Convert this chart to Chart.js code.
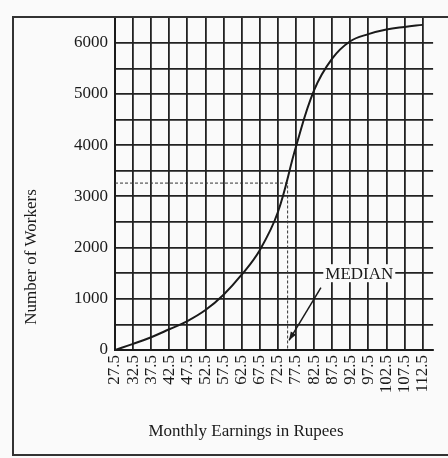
<!DOCTYPE html>
<html>
<head>
<meta charset="utf-8">
<script src="https://cdn.jsdelivr.net/npm/chart.js@4"></script>
<style>
	html, body { margin: 0; padding: 0; background: #fafafa; overflow: hidden; }
	#wrap { width: 448px; height: 458px; }
</style>
</head>
<body>
<div id="wrap"><canvas id="ogiveChart" width="448" height="458"></canvas></div>
<script>
// monthly earnings (upper class limits) and cumulative number of workers
const earnings = [27.5, 32.5, 37.5, 42.5, 47.5, 52.5, 57.5, 62.5, 67.5, 72.5, 77.5, 82.5, 87.5, 92.5, 97.5, 102.5, 107.5, 112.5];
const workers = [0, 120, 250, 405, 565, 780, 1080, 1470, 1950, 2690, 3970, 5070, 5690, 6030, 6170, 6260, 6310, 6350];
const yTicks = [0, 1000, 2000, 3000, 4000, 5000, 6000];

// median read-off
const medianEarning = 75.2;
const medianWorkers = 3260;
// arrow from label to median point (data coords)
const arrowFrom = [84.4, 1220];
const arrowTo = [75.6, 190];
const medianLabelAt = [95, 1500];

const serif = "'Liberation Serif', 'Times New Roman', serif";
const ink = "#1a1a1a";

const paperPlugin = {
	id: "paper",
	beforeDraw(chart) {
		const ctx = chart.ctx;
		ctx.save();
		ctx.fillStyle = "#fafafa";
		ctx.fillRect(0, 0, chart.width, chart.height);
		ctx.restore();
	},
	afterDraw(chart) {
		const ctx = chart.ctx;
		const xs = chart.scales.x;
		const ys = chart.scales.y;
		ctx.save();
		// outer frame
		ctx.strokeStyle = "#333";
		ctx.lineWidth = 2;
		ctx.strokeRect(13, 17, 460, 438);

		// axis titles
		ctx.fillStyle = ink;
		ctx.font = "17px " + serif;
		ctx.textAlign = "center";
		ctx.textBaseline = "middle";
		ctx.fillText("Monthly Earnings in Rupees", 246, 432);
		ctx.save();
		ctx.translate(32, 257);
		ctx.rotate(-Math.PI / 2);
		ctx.fillText("Number of Workers", 0, 0);
		ctx.restore();

		// MEDIAN label with arrow
		const lx = xs.getPixelForValue(medianLabelAt[0]);
		const ly = ys.getPixelForValue(medianLabelAt[1]);
		ctx.font = "17px " + serif;
		const w = ctx.measureText("MEDIAN").width;
		ctx.fillStyle = "#fafafa";
		ctx.fillRect(lx - w / 2 - 2, ly - 9, w + 4, 18);
		ctx.fillStyle = ink;
		ctx.fillText("MEDIAN", lx, ly + 1);

		const x1 = xs.getPixelForValue(arrowFrom[0]);
		const y1 = ys.getPixelForValue(arrowFrom[1]);
		const x2 = xs.getPixelForValue(arrowTo[0]);
		const y2 = ys.getPixelForValue(arrowTo[1]);
		ctx.strokeStyle = ink;
		ctx.lineWidth = 1.5;
		ctx.beginPath();
		ctx.moveTo(x1, y1);
		ctx.lineTo(x2, y2);
		ctx.stroke();
		const a = Math.atan2(y2 - y1, x2 - x1);
		ctx.beginPath();
		ctx.moveTo(x2, y2);
		ctx.lineTo(x2 - 9 * Math.cos(a - 0.35), y2 - 9 * Math.sin(a - 0.35));
		ctx.lineTo(x2 - 9 * Math.cos(a + 0.35), y2 - 9 * Math.sin(a + 0.35));
		ctx.closePath();
		ctx.fill();
		ctx.restore();
	}
};

const ogiveConfig = {
	type: "line",
	data: {
		datasets: [
			{
				label: "Cumulative workers",
				data: earnings.map((e, i) => ({ x: e, y: workers[i] })),
				borderColor: ink,
				borderWidth: 2,
				pointRadius: 0,
				tension: 0.4,
				fill: false
			},
			{
				label: "Median",
				data: [
					{ x: earnings[0], y: medianWorkers },
					{ x: medianEarning, y: medianWorkers },
					{ x: medianEarning, y: 0 }
				],
				borderColor: "#333",
				borderWidth: 1,
				borderDash: [3, 2],
				pointRadius: 0,
				tension: 0,
				fill: false
			}
		]
	},
	options: {
		responsive: false,
		animation: false,
		events: [],
		layout: { padding: { top: 17, right: 0, bottom: 0, left: 0 } },
		plugins: {
			legend: { display: false },
			tooltip: { enabled: false }
		},
		scales: {
			x: {
				type: "linear",
				min: 27.5,
				max: 115.4,
				afterBuildTicks: (scale) => {
					scale.ticks = earnings.map(v => ({ value: v }));
				},
				afterFit: (scale) => { scale.height = 108; },
				grid: { color: "#222", lineWidth: 1.8, drawTicks: false },
				border: { display: true, color: "#1a1a1a", width: 2 },
				ticks: {
					autoSkip: false,
					minRotation: 90,
					maxRotation: 90,
					padding: 5,
					color: ink,
					font: { family: serif, size: 17 },
					callback: (v) => String(v)
				}
			},
			y: {
				min: 0,
				max: 6500,
				afterFit: (scale) => { scale.width = 115; },
				grid: { color: "#222", lineWidth: 1.8, drawTicks: false },
				border: { display: true, color: "#1a1a1a", width: 2 },
				ticks: {
					stepSize: 500,
					padding: 7,
					color: ink,
					font: { family: serif, size: 17 },
					callback: (v) => yTicks.includes(v) ? String(v) : ""
				}
			}
		}
	},
	plugins: [paperPlugin]
};

const chartOgive = new Chart(document.getElementById("ogiveChart"), ogiveConfig);
</script>
</body>
</html>
